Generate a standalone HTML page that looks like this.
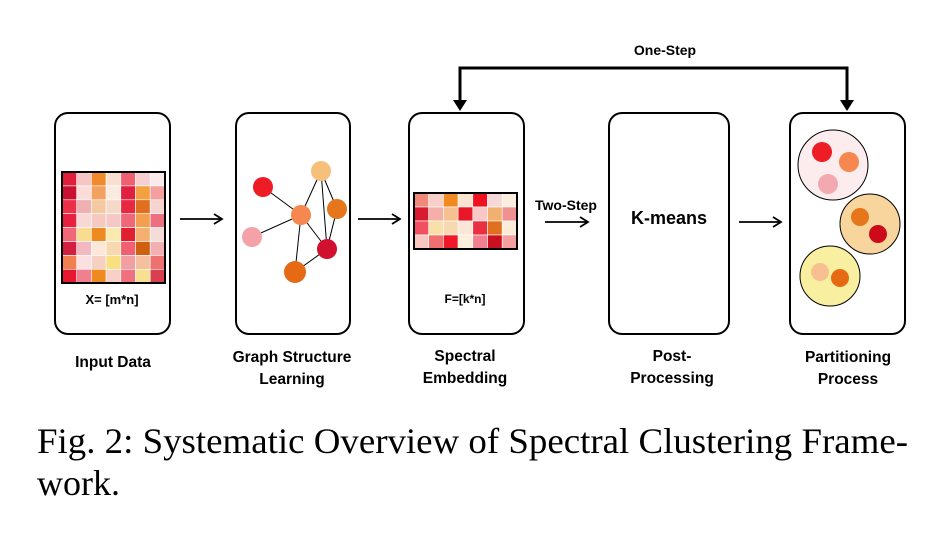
<!DOCTYPE html>
<html><head><meta charset="utf-8"><style>html,body{margin:0;padding:0;background:#fff}svg{display:block}</style></head>
<body>
<svg width="942" height="533" viewBox="0 0 942 533" xmlns="http://www.w3.org/2000/svg" font-family="Liberation Sans, sans-serif">
<defs>
<marker id="ah" markerWidth="12" markerHeight="12" refX="10" refY="6" orient="auto" markerUnits="userSpaceOnUse"><path d="M2,1 L10,6 L2,11" fill="none" stroke="#000" stroke-width="1.8"/></marker>
</defs>
<g fill="#fff" stroke="#000" stroke-width="2">
<rect x="55" y="113" width="115" height="221" rx="13"/>
<rect x="236" y="113" width="114" height="221" rx="13"/>
<rect x="409" y="113" width="115" height="221" rx="13"/>
<rect x="609" y="113" width="120" height="221" rx="13"/>
<rect x="790" y="113" width="115" height="221" rx="13"/>
</g>
<g stroke="#fff" stroke-width="0.6">
<rect x="62" y="172" width="14.7" height="13.9" fill="#e0203a"/><rect x="76.7" y="172" width="14.7" height="13.9" fill="#f6c6c6"/><rect x="91.4" y="172" width="14.7" height="13.9" fill="#f08a2a"/><rect x="106.1" y="172" width="14.7" height="13.9" fill="#f8e0d0"/><rect x="120.8" y="172" width="14.7" height="13.9" fill="#f06070"/><rect x="135.5" y="172" width="14.7" height="13.9" fill="#f6d0d0"/><rect x="150.2" y="172" width="14.8" height="13.9" fill="#faeaea"/>
<rect x="62" y="185.9" width="14.7" height="13.9" fill="#c81030"/><rect x="76.7" y="185.9" width="14.7" height="13.9" fill="#fadcd8"/><rect x="91.4" y="185.9" width="14.7" height="13.9" fill="#f3a060"/><rect x="106.1" y="185.9" width="14.7" height="13.9" fill="#faeadf"/><rect x="120.8" y="185.9" width="14.7" height="13.9" fill="#e02040"/><rect x="135.5" y="185.9" width="14.7" height="13.9" fill="#f4a040"/><rect x="150.2" y="185.9" width="14.8" height="13.9" fill="#f4a0a0"/>
<rect x="62" y="199.8" width="14.7" height="13.9" fill="#ec3048"/><rect x="76.7" y="199.8" width="14.7" height="13.9" fill="#eeb0b0"/><rect x="91.4" y="199.8" width="14.7" height="13.9" fill="#f4c8a0"/><rect x="106.1" y="199.8" width="14.7" height="13.9" fill="#f4d8c8"/><rect x="120.8" y="199.8" width="14.7" height="13.9" fill="#e82840"/><rect x="135.5" y="199.8" width="14.7" height="13.9" fill="#e07020"/><rect x="150.2" y="199.8" width="14.8" height="13.9" fill="#f6d4d0"/>
<rect x="62" y="213.7" width="14.7" height="13.9" fill="#e82040"/><rect x="76.7" y="213.7" width="14.7" height="13.9" fill="#f8d8d4"/><rect x="91.4" y="213.7" width="14.7" height="13.9" fill="#f6c8c0"/><rect x="106.1" y="213.7" width="14.7" height="13.9" fill="#f4c8c4"/><rect x="120.8" y="213.7" width="14.7" height="13.9" fill="#f06878"/><rect x="135.5" y="213.7" width="14.7" height="13.9" fill="#f2a050"/><rect x="150.2" y="213.7" width="14.8" height="13.9" fill="#ee7080"/>
<rect x="62" y="227.6" width="14.7" height="13.9" fill="#f06878"/><rect x="76.7" y="227.6" width="14.7" height="13.9" fill="#f8dc90"/><rect x="91.4" y="227.6" width="14.7" height="13.9" fill="#ee8a20"/><rect x="106.1" y="227.6" width="14.7" height="13.9" fill="#fbeab0"/><rect x="120.8" y="227.6" width="14.7" height="13.9" fill="#e02030"/><rect x="135.5" y="227.6" width="14.7" height="13.9" fill="#f4b070"/><rect x="150.2" y="227.6" width="14.8" height="13.9" fill="#f6dcd8"/>
<rect x="62" y="241.5" width="14.7" height="13.9" fill="#d42040"/><rect x="76.7" y="241.5" width="14.7" height="13.9" fill="#f4b8c0"/><rect x="91.4" y="241.5" width="14.7" height="13.9" fill="#fbe8d8"/><rect x="106.1" y="241.5" width="14.7" height="13.9" fill="#f8d8b0"/><rect x="120.8" y="241.5" width="14.7" height="13.9" fill="#f06070"/><rect x="135.5" y="241.5" width="14.7" height="13.9" fill="#d06010"/><rect x="150.2" y="241.5" width="14.8" height="13.9" fill="#f2b0b0"/>
<rect x="62" y="255.4" width="14.7" height="13.9" fill="#f08050"/><rect x="76.7" y="255.4" width="14.7" height="13.9" fill="#fae0e0"/><rect x="91.4" y="255.4" width="14.7" height="13.9" fill="#f6d0c0"/><rect x="106.1" y="255.4" width="14.7" height="13.9" fill="#f8e080"/><rect x="120.8" y="255.4" width="14.7" height="13.9" fill="#f0a0a0"/><rect x="135.5" y="255.4" width="14.7" height="13.9" fill="#f4c0a0"/><rect x="150.2" y="255.4" width="14.8" height="13.9" fill="#ee7070"/>
<rect x="62" y="269.3" width="14.7" height="13.7" fill="#e81830"/><rect x="76.7" y="269.3" width="14.7" height="13.7" fill="#f08090"/><rect x="91.4" y="269.3" width="14.7" height="13.7" fill="#ee8a20"/><rect x="106.1" y="269.3" width="14.7" height="13.7" fill="#f8d0c8"/><rect x="120.8" y="269.3" width="14.7" height="13.7" fill="#f07080"/><rect x="135.5" y="269.3" width="14.7" height="13.7" fill="#f8e090"/><rect x="150.2" y="269.3" width="14.8" height="13.7" fill="#d84050"/>
</g>
<rect x="62" y="172" width="103" height="111" fill="none" stroke="#000" stroke-width="2"/>
<text x="112" y="304" font-size="13" font-weight="bold" text-anchor="middle">X= [m*n]</text>
<g stroke="#000" stroke-width="1">
<line x1="263" y1="187" x2="301" y2="215"/><line x1="252" y1="237" x2="301" y2="215"/><line x1="301" y1="215" x2="321" y2="171"/><line x1="301" y1="215" x2="327" y2="249"/><line x1="301" y1="215" x2="295" y2="272"/><line x1="321" y1="171" x2="337" y2="209"/><line x1="321" y1="171" x2="327" y2="249"/><line x1="337" y1="209" x2="327" y2="249"/><line x1="327" y1="249" x2="295" y2="272"/>
</g>
<circle cx="263" cy="187" r="10" fill="#ee1c24"/><circle cx="321" cy="171" r="10" fill="#f6c07a"/><circle cx="301" cy="215" r="10" fill="#f5874f"/><circle cx="337" cy="209" r="10" fill="#e6761c"/><circle cx="252" cy="237" r="10" fill="#f4a2a8"/><circle cx="327" cy="249" r="10" fill="#d0102e"/><circle cx="295" cy="272" r="11" fill="#e66a14"/>
<g stroke="#fff" stroke-width="0.6">
<rect x="414" y="193" width="14.7" height="14" fill="#f08a78"/><rect x="428.7" y="193" width="14.7" height="14" fill="#f8d0c8"/><rect x="443.4" y="193" width="14.7" height="14" fill="#f08a20"/><rect x="458.1" y="193" width="14.7" height="14" fill="#fbe4d0"/><rect x="472.8" y="193" width="14.7" height="14" fill="#f01020"/><rect x="487.5" y="193" width="14.7" height="14" fill="#f6d8d8"/><rect x="502.2" y="193" width="14.8" height="14" fill="#fcefe0"/>
<rect x="414" y="207" width="14.7" height="14" fill="#d81c30"/><rect x="428.7" y="207" width="14.7" height="14" fill="#f4b0a8"/><rect x="443.4" y="207" width="14.7" height="14" fill="#f6c090"/><rect x="458.1" y="207" width="14.7" height="14" fill="#e81828"/><rect x="472.8" y="207" width="14.7" height="14" fill="#f8c8c8"/><rect x="487.5" y="207" width="14.7" height="14" fill="#f2b070"/><rect x="502.2" y="207" width="14.8" height="14" fill="#f09090"/>
<rect x="414" y="221" width="14.7" height="14" fill="#f05060"/><rect x="428.7" y="221" width="14.7" height="14" fill="#f8e0a8"/><rect x="443.4" y="221" width="14.7" height="14" fill="#f8d8b0"/><rect x="458.1" y="221" width="14.7" height="14" fill="#fbe6d8"/><rect x="472.8" y="221" width="14.7" height="14" fill="#e83040"/><rect x="487.5" y="221" width="14.7" height="14" fill="#e07020"/><rect x="502.2" y="221" width="14.8" height="14" fill="#faecd8"/>
<rect x="414" y="235" width="14.7" height="14" fill="#f8c8c0"/><rect x="428.7" y="235" width="14.7" height="14" fill="#f07070"/><rect x="443.4" y="235" width="14.7" height="14" fill="#f01828"/><rect x="458.1" y="235" width="14.7" height="14" fill="#fcf0dc"/><rect x="472.8" y="235" width="14.7" height="14" fill="#f08090"/><rect x="487.5" y="235" width="14.7" height="14" fill="#c81020"/><rect x="502.2" y="235" width="14.8" height="14" fill="#f4a0a0"/>
</g>
<rect x="414" y="193" width="103" height="56" fill="none" stroke="#000" stroke-width="2"/>
<text x="465" y="303" font-size="12" font-weight="bold" text-anchor="middle">F=[k*n]</text>
<text x="669" y="224" font-size="18" font-weight="bold" text-anchor="middle">K-means</text>
<circle cx="833" cy="165" r="35" fill="#fcecee" stroke="#000" stroke-width="1"/>
<circle cx="870" cy="224" r="30" fill="#f7d59c" stroke="#000" stroke-width="1"/>
<circle cx="830" cy="276" r="30" fill="#f8f0a0" stroke="#000" stroke-width="1"/>
<circle cx="822" cy="152" r="10" fill="#ee1c24"/><circle cx="849" cy="162" r="10" fill="#f5874f"/><circle cx="828" cy="184" r="10" fill="#f2aab0"/>
<circle cx="860" cy="217" r="9" fill="#e6761c"/><circle cx="878" cy="234" r="9" fill="#cc0a1a"/>
<circle cx="820" cy="272" r="9" fill="#f8c090"/><circle cx="840" cy="278" r="9" fill="#e66a14"/>
<g stroke="#000" stroke-width="1.8" fill="none">
<line x1="180" y1="219" x2="222" y2="219" marker-end="url(#ah)"/>
<line x1="358" y1="219" x2="400" y2="219" marker-end="url(#ah)"/>
<line x1="545" y1="222" x2="588" y2="222" marker-end="url(#ah)"/>
<line x1="739" y1="222" x2="781" y2="222" marker-end="url(#ah)"/>
</g>
<polyline points="460,102 460,68 847,68 847,102" stroke="#000" stroke-width="3" fill="none"/>
<path d="M453,100 L467,100 L460,111 Z" fill="#000"/>
<path d="M840,100 L854,100 L847,111 Z" fill="#000"/>
<text x="665" y="55" font-size="14" font-weight="bold" text-anchor="middle">One-Step</text>
<text x="566" y="210" font-size="14" font-weight="bold" text-anchor="middle">Two-Step</text>
<g font-size="15.5" font-weight="bold" text-anchor="middle">
<text x="113" y="367">Input Data</text>
<text x="292" y="362">Graph Structure</text><text x="292" y="384">Learning</text>
<text x="465" y="361">Spectral</text><text x="465" y="383">Embedding</text>
<text x="672" y="361">Post-</text><text x="672" y="383">Processing</text>
<text x="848" y="362">Partitioning</text><text x="848" y="384">Process</text>
</g>
<g font-family="Liberation Serif, serif" font-size="36">
<text x="37" y="453" textLength="871" lengthAdjust="spacingAndGlyphs">Fig. 2: Systematic Overview of Spectral Clustering Frame-</text>
<text x="37" y="495">work.</text>
</g>
</svg>
</body></html>
